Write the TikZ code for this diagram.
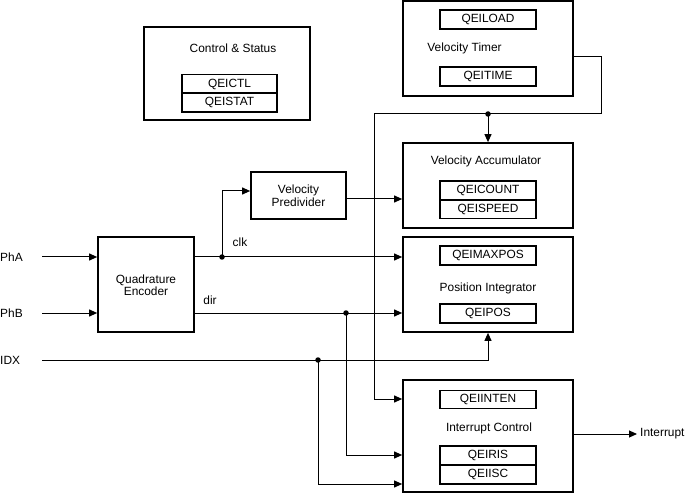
\documentclass[tikz,border=0pt]{standalone}
\usepackage{fontspec}
\setmainfont{Liberation Sans}
\usetikzlibrary{arrows.meta}
\begin{document}
\begin{tikzpicture}[x=1pt,y=-1pt,
  every node/.style={font=\fontsize{11.9}{13.5}\selectfont, inner sep=0pt},
  blk/.style={draw, line width=1.7pt, minimum width=170pt, minimum height=95pt},
  reg/.style={draw, line width=1.4pt, minimum width=96pt, minimum height=19pt},
  wire/.style={line width=1pt},
  arr/.style={wire, -{Triangle[length=8pt,width=7pt]}},
  dot/.style={circle, fill, minimum size=5.5pt, inner sep=0pt}]
\useasboundingbox (0,0) rectangle (685,494);
% blocks
\node[blk, minimum width=166pt, minimum height=93pt] (cs) at (227,73.5) {};
\node[blk] (vt) at (488,48.5) {};
\node[blk, minimum height=85pt] (va) at (488,185.5) {};
\node[blk] (pi) at (488,284.5) {};
\node[blk, minimum height=112pt] (ic) at (488,436) {};
\node[blk, minimum width=96pt] (qe) at (146,284.5) {};
\node[blk, minimum width=95pt, minimum height=47pt] (vp) at (298.5,195.5) {};
% titles
\node (cst) at (233,48) {Control \& Status};
\node (vtt) at (464.5,48) {Velocity Timer};
\node (vat) at (486,161) {Velocity Accumulator};
\node (pit) at (488,288) {Position Integrator};
\node (ict) at (489,428) {Interrupt Control};
\node[align=center] (qet) at (146,285) {Quadrature\\[-1pt]Encoder};
\node[align=center] (vpt) at (298.5,195.5) {Velocity\\[-1pt]Predivider};
% registers
\node[reg, minimum width=95pt] (qeictl) at (229.5,84) {QEICTL};
\node[reg, minimum width=95pt] (qeistat) at (229.5,102.5) {QEISTAT};
\node[reg] (qeiload) at (488,19.5) {QEILOAD};
\node[reg] (qeitime) at (488,76.5) {QEITIME};
\node[reg] (qeicount) at (488,190.5) {QEICOUNT};
\node[reg] (qeispeed) at (488,209) {QEISPEED};
\node[reg] (qeimaxpos) at (488,255.5) {QEIMAXPOS};
\node[reg] (qeipos) at (488,313.5) {QEIPOS};
\node[reg, minimum height=18pt] (qeiinten) at (488,399.5) {QEIINTEN};
\node[reg] (qeiris) at (488,455.5) {QEIRIS};
\node[reg] (qeiisc) at (488,474.5) {QEIISC};
% signal labels
\node[anchor=west] (pha) at (0,257) {PhA};
\node[anchor=west] (phb) at (0,313) {PhB};
\node[anchor=west] (idx) at (0,360) {IDX};
\node (clk) at (240,242) {clk};
\node (dir) at (210,300) {dir};
\node[anchor=west] (intr) at (640,434) {Interrupt};
% coordinates
\coordinate (pha0) at (42,257);
\coordinate (phb0) at (42,313);
\coordinate (idx0) at (42,360);
\coordinate (clkd) at (222,257);
\coordinate (dird) at (346,313);
\coordinate (idxd) at (318,360);
\coordinate (tmr) at (601,114);
\coordinate (tmrd) at (488,114);
\coordinate (bus) at (374,114);
\coordinate (into) at (637,434);
% wires
\draw[arr] (pha0) -- (qe.west |- pha0);
\draw[arr] (phb0) -- (qe.west |- phb0);
\draw[arr] (qe.east |- clkd) -- (pi.west |- clkd);
\draw[arr] (clkd) |- (vp.west |- 0,191);
\draw[arr] (vp.east |- 0,199) -- (va.west |- 0,199);
\draw[arr] (qe.east |- dird) -- (pi.west |- dird);
\draw[arr] (idx0) -| (pi.south);
\draw[wire] (vt.east |- 0,57) -| (tmr) -- (bus);
\draw[arr] (tmrd) -- (va.north);
\draw[arr] (bus) |- (ic.west |- 0,399);
\draw[arr] (dird) |- (ic.west |- 0,455);
\draw[arr] (idxd) |- (ic.west |- 0,484);
\draw[arr] (ic.east |- into) -- (into);
% junction dots
\node[dot] (d1) at (clkd) {};
\node[dot] (d2) at (dird) {};
\node[dot] (d3) at (idxd) {};
\node[dot] (d4) at (tmrd) {};
\end{tikzpicture}
\end{document}
